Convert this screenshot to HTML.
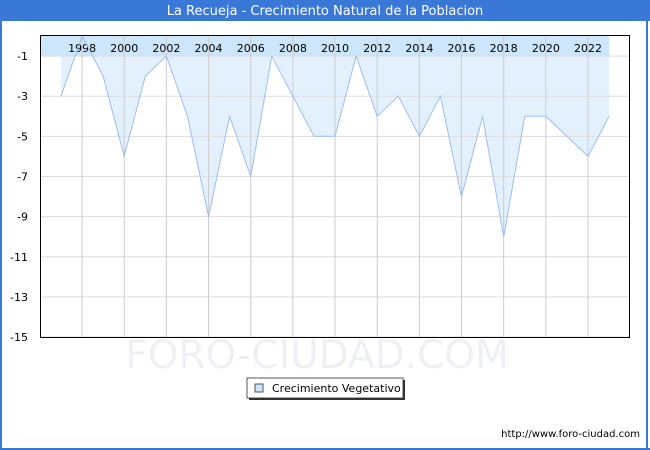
<!DOCTYPE html>
<html><head><meta charset="utf-8"><style>
body{margin:0;width:650px;height:450px;overflow:hidden;background:#fff;font-family:"Liberation Sans","DejaVu Sans",sans-serif}
</style></head><body>
<svg width="650" height="450" xmlns="http://www.w3.org/2000/svg" style="position:absolute;left:0;top:0">
<rect x="0" y="0" width="650" height="450" fill="#fff"/>
<rect x="0" y="0" width="650" height="21" fill="#3a78d8"/>
<rect x="0" y="0" width="2" height="450" fill="#3a78d8"/>
<rect x="646" y="0" width="2" height="450" fill="#3a78d8"/>
<rect x="0" y="448" width="650" height="2" fill="#3a78d8"/>
<text x="325" y="15" fill="#fff" font-size="13" text-anchor="middle" font-family="DejaVu Sans,sans-serif">La Recueja - Crecimiento Natural de la Poblacion</text>
<text x="317" y="368" fill="#eef0f6" font-size="39" text-anchor="middle" font-family="DejaVu Sans,sans-serif">FORO-CIUDAD.COM</text>
<g id="chart"></g>
<rect x="247" y="378" width="156" height="20" fill="#fff" stroke="#555"/>
<rect x="249" y="398" width="156" height="2" fill="#333"/>
<rect x="403" y="380" width="2" height="20" fill="#333"/>
<rect x="255" y="384" width="8" height="8" fill="#cfe5fb" stroke="#456"/>
<text x="272" y="392" font-size="11" font-family="DejaVu Sans,sans-serif">Crecimiento Vegetativo</text>
<text x="640" y="437" font-size="10" text-anchor="end" font-family="DejaVu Sans,sans-serif">http://www.foro-ciudad.com</text>
</svg>
<script>
const d=[-3,0,-2,-6,-2,-1,-4,-9,-4,-7,-1,-3,-5,-5,-1,-4,-3,-5,-3,-8,-4,-10,-4,-4,-5,-6,-4];
const X=y=>61+(y-1997)*21.08, Y=v=>36-v*20.07;
let s='';
let pts=d.map((v,i)=>X(1997+i).toFixed(1)+','+Y(v).toFixed(1));
s+=`<polygon points="${X(1997)},36 ${pts.join(' ')} ${X(2023)},36" fill="#e3f1fe"/>`;
s+=`<rect x="41" y="36" width="${X(2023)-41}" height="20" fill="#cce6fc"/>`;
for(let v=-1;v>=-15;v-=2){s+=`<line x1="41" x2="629" y1="${Y(v)}" y2="${Y(v)}" stroke="#ddd"/>`;
s+=`<text x="28" y="${Y(v)+4}" font-size="11" text-anchor="end" font-family="DejaVu Sans,sans-serif">${v}</text>`;}
for(let y=1998;y<=2022;y+=2){s+=`<line x1="${X(y)}" x2="${X(y)}" y1="36" y2="337" stroke="#ccc"/>`;
s+=`<text x="${X(y)}" y="52" font-size="11" text-anchor="middle" font-family="DejaVu Sans,sans-serif">${y}</text>`;}
s+=`<polyline points="${pts.join(' ')}" fill="none" stroke="#9dbdf0" stroke-width="1"/>`;
s+=`<rect x="40.5" y="35.5" width="589" height="302" fill="none" stroke="#000"/>`;
document.getElementById('chart').innerHTML=s;
</script>
</body></html>
